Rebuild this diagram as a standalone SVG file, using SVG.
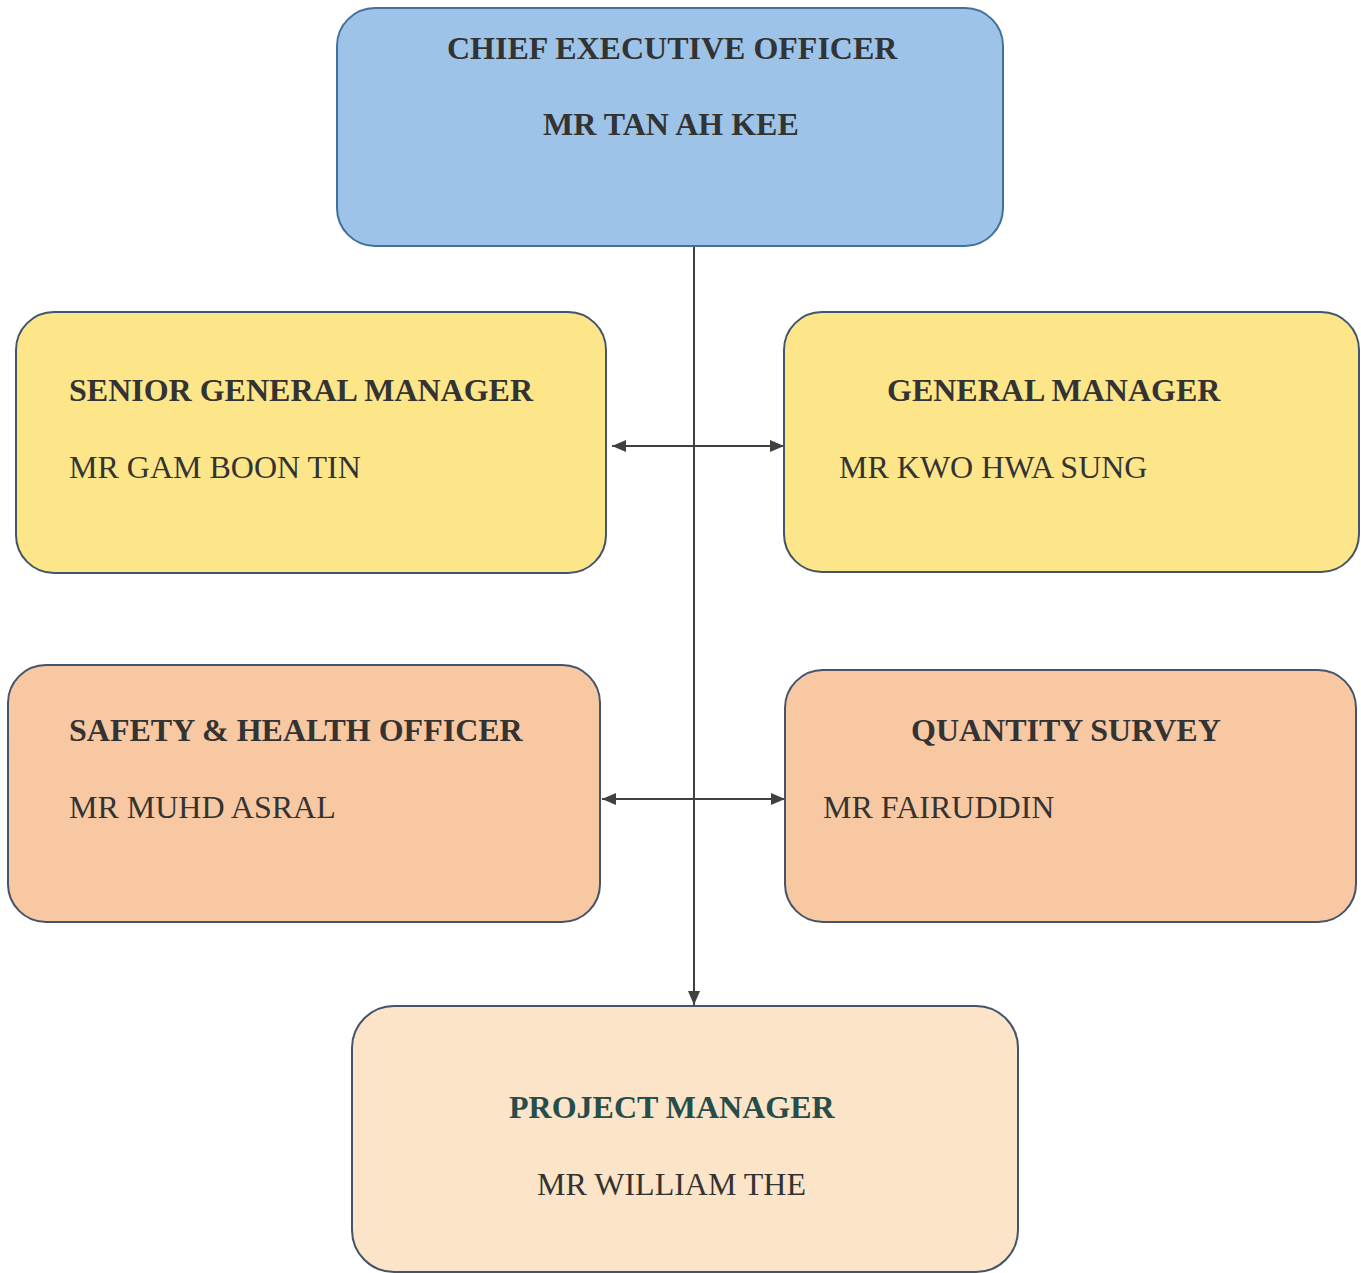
<svg xmlns="http://www.w3.org/2000/svg" width="1361" height="1273" viewBox="0 0 1361 1273">
<defs>
<style>
.box{stroke:#44546a;stroke-width:2}
.ceo{fill:#9dc3e8;stroke:#41719c}
.yel{fill:#fde68a}
.org{fill:#f8c8a2}
.pm{fill:#fce4c8}
.t{font-family:"Liberation Serif","Times New Roman",serif;font-size:32px;fill:#333333}
.b{font-weight:bold}
.pmt{fill:#264d4a}
.ln{stroke:#404040;stroke-width:2;fill:none}
</style>
<marker id="ah" viewBox="0 0 14 12" refX="14" refY="6" markerWidth="14" markerHeight="12" markerUnits="userSpaceOnUse" orient="auto-start-reverse">
<path d="M0,0 L14,6 L0,12 Z" fill="#404040"/>
</marker>
</defs>
<rect width="1361" height="1273" fill="#ffffff"/>
<g id="connectors">
<line class="ln" x1="694" y1="247" x2="694" y2="1005" marker-end="url(#ah)"/>
<line class="ln" x1="612" y1="446" x2="784" y2="446" marker-start="url(#ah)" marker-end="url(#ah)"/>
<line class="ln" x1="602" y1="799" x2="785" y2="799" marker-start="url(#ah)" marker-end="url(#ah)"/>
</g>
<g id="ceo">
<rect class="box ceo" x="337" y="8" width="666" height="238" rx="38"/>
<text class="t b" x="447" y="59">CHIEF EXECUTIVE OFFICER</text>
<text class="t b" x="543" y="135">MR TAN AH KEE</text>
</g>
<g id="sgm">
<rect class="box yel" x="16" y="312" width="590" height="261" rx="38"/>
<text class="t b" x="69" y="401">SENIOR GENERAL MANAGER</text>
<text class="t" x="69" y="478">MR GAM BOON TIN</text>
</g>
<g id="gm">
<rect class="box yel" x="784" y="312" width="575" height="260" rx="38"/>
<text class="t b" x="887" y="401">GENERAL MANAGER</text>
<text class="t" x="839" y="478">MR KWO HWA SUNG</text>
</g>
<g id="sho">
<rect class="box org" x="8" y="665" width="592" height="257" rx="38"/>
<text class="t b" x="69" y="741">SAFETY &amp; HEALTH OFFICER</text>
<text class="t" x="69" y="818">MR MUHD ASRAL</text>
</g>
<g id="qs">
<rect class="box org" x="785" y="670" width="571" height="252" rx="38"/>
<text class="t b" x="911" y="741">QUANTITY SURVEY</text>
<text class="t" x="823" y="818">MR FAIRUDDIN</text>
</g>
<g id="pm">
<rect class="box pm" x="352" y="1006" width="666" height="266" rx="42"/>
<text class="t b pmt" x="509" y="1118">PROJECT MANAGER</text>
<text class="t" x="537" y="1195">MR WILLIAM THE</text>
</g>
</svg>
